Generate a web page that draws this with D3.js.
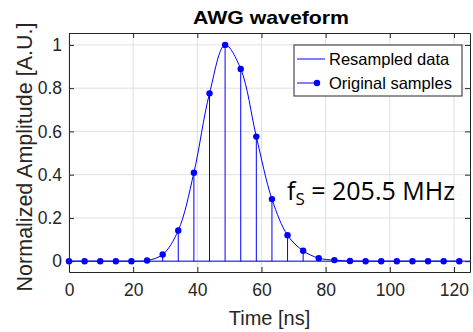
<!DOCTYPE html>
<html>
<head>
<meta charset="utf-8">
<script src="https://cdn.jsdelivr.net/npm/d3@7"></script>
<style>
  body { margin: 0; background: #fff; }
  svg text { font-family: "Liberation Sans", Arial, sans-serif; }
</style>
</head>
<body>
<div id="chart"></div>
<script>
// sample times [ns] (fs = 205.5 MHz) and normalized amplitudes
const sampleTimes = [0, 4.87, 9.73, 14.60, 19.46, 24.33, 29.20, 34.06, 38.93, 43.80,
    48.66, 53.53, 58.39, 63.26, 68.13, 72.99, 77.86, 82.73, 87.59, 92.46,
    97.32, 102.19, 107.06, 111.92, 116.79, 121.65];
const sampleValues = [0, 0, 0, 0, 0, 0.003, 0.031, 0.142, 0.409, 0.776,
    1.0, 0.889, 0.576, 0.287, 0.120, 0.048, 0.014, 0.005, 0.001, 0,
    0, 0, 0, 0, 0, 0];
const xTicks = [0, 20, 40, 60, 80, 100, 120];
const yTicks = [0, 0.2, 0.4, 0.6, 0.8, 1];
const legendLabels = ["Resampled data", "Original samples"];

const size = {width: 473, height: 332};
const margin = {top: 33, right: 3, bottom: 60, left: 69};
const width = size.width - margin.left - margin.right;
const height = size.height - margin.top - margin.bottom;
const blue = "#0000ff";
const axisColor = "#262626";

const data = sampleTimes.map((t, i) => ({t: t, v: sampleValues[i]}));

const svg = d3.select("#chart").append("svg")
    .attr("width", size.width)
    .attr("height", size.height);

const g = svg.append("g")
    .attr("transform", "translate(" + margin.left + "," + margin.top + ")");

const xScale = d3.scaleLinear().domain([0, 125]).range([0, width]);
const yScale = d3.scaleLinear().domain([-0.05, 1.055]).range([height, 0]);

// grid
g.append("g").selectAll("line").data(xTicks).join("line")
    .attr("x1", d => xScale(d)).attr("x2", d => xScale(d))
    .attr("y1", 0).attr("y2", height)
    .attr("stroke", "#e0e0e0").attr("stroke-width", 1);
g.append("g").selectAll("line").data(yTicks).join("line")
    .attr("y1", d => yScale(d)).attr("y2", d => yScale(d))
    .attr("x1", 0).attr("x2", width)
    .attr("stroke", "#e0e0e0").attr("stroke-width", 1);

// stems
g.append("g").selectAll("line").data(data).join("line")
    .attr("x1", d => xScale(d.t)).attr("x2", d => xScale(d.t))
    .attr("y1", yScale(0)).attr("y2", d => yScale(d.v))
    .attr("stroke", blue).attr("stroke-width", 1);

// baseline of stem plot
g.append("line")
    .attr("x1", xScale(0)).attr("x2", width)
    .attr("y1", yScale(0)).attr("y2", yScale(0))
    .attr("stroke", blue).attr("stroke-width", 1);

// resampled curve
const line = d3.line()
    .x(d => xScale(d.t))
    .y(d => yScale(d.v))
    .curve(d3.curveCatmullRom.alpha(0.5));
g.append("path")
    .datum(data)
    .attr("d", line)
    .attr("fill", "none")
    .attr("stroke", blue)
    .attr("stroke-width", 1);

// sample markers
g.append("g").selectAll("circle").data(data).join("circle")
    .attr("cx", d => xScale(d.t))
    .attr("cy", d => yScale(d.v))
    .attr("r", 3.2)
    .attr("fill", blue);

// axes (ticks inside, box on)
function styleAxis(sel) {
    sel.select(".domain").attr("stroke", axisColor);
    sel.selectAll(".tick line").attr("stroke", axisColor);
    sel.selectAll(".tick text").attr("fill", axisColor).style("font-size", "17.5px");
}
g.append("g")
    .attr("transform", "translate(0," + height + ")")
    .call(d3.axisBottom(xScale).tickValues(xTicks).tickSize(-5).tickSizeOuter(0).tickPadding(12))
    .call(styleAxis);
g.append("g")
    .call(d3.axisTop(xScale).tickValues(xTicks).tickSize(-5).tickSizeOuter(0).tickFormat(""))
    .call(styleAxis);
g.append("g")
    .call(d3.axisLeft(yScale).tickValues(yTicks).tickSize(-5).tickSizeOuter(0).tickPadding(7)
        .tickFormat(d3.format("~g")))
    .call(styleAxis);
g.append("g")
    .attr("transform", "translate(" + width + ",0)")
    .call(d3.axisRight(yScale).tickValues(yTicks).tickSize(-5).tickSizeOuter(0).tickFormat(""))
    .call(styleAxis);

// title and labels
svg.append("text")
    .attr("x", 271).attr("y", 24)
    .attr("text-anchor", "middle")
    .attr("textLength", 156).attr("lengthAdjust", "spacingAndGlyphs")
    .style("font-size", "19px").style("font-weight", "bold")
    .attr("fill", "#000")
    .text("AWG waveform");
svg.append("text")
    .attr("x", margin.left + width / 2).attr("y", 325)
    .attr("text-anchor", "middle")
    .style("font-size", "20px")
    .attr("fill", axisColor)
    .text("Time [ns]");
svg.append("text")
    .attr("transform", "translate(32,157) rotate(-90)")
    .attr("text-anchor", "middle")
    .style("font-size", "21.5px")
    .attr("fill", axisColor)
    .text("Normalized Amplitude [A.U.]");

// annotation
const ann = svg.append("text")
    .attr("x", 287).attr("y", 200)
    .style("font-family", "'Open Sans', 'Noto Sans', sans-serif")
    .style("font-size", "25px")
    .attr("fill", "#000");
ann.append("tspan").text("f");
ann.append("tspan").attr("dy", 5).style("font-size", "17px").text("S");
ann.append("tspan").attr("dy", -5).text(" = 205.5 MHz");

// legend
const legend = svg.append("g").attr("transform", "translate(294,45)");
legend.append("rect")
    .attr("width", 168).attr("height", 51)
    .attr("fill", "#fff").attr("stroke", axisColor).attr("stroke-width", 1);
legend.append("line")
    .attr("x1", 3).attr("x2", 31).attr("y1", 14).attr("y2", 14)
    .attr("stroke", blue).attr("stroke-width", 1);
legend.append("line")
    .attr("x1", 3).attr("x2", 23).attr("y1", 38).attr("y2", 38)
    .attr("stroke", blue).attr("stroke-width", 1);
legend.append("circle")
    .attr("cx", 23).attr("cy", 38).attr("r", 3.2).attr("fill", blue);
legend.selectAll("text.lab").data(legendLabels).join("text")
    .attr("class", "lab")
    .attr("x", 35).attr("y", (d, i) => 14 + i * 24)
    .attr("dy", "0.35em")
    .style("font-size", "16.5px")
    .attr("fill", "#000")
    .text(d => d);
</script>
</body>
</html>
